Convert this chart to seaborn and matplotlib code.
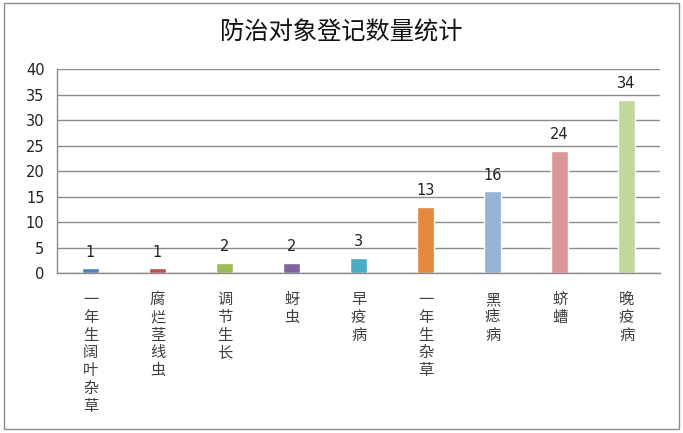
import numpy as np
import pandas as pd
import matplotlib
matplotlib.use("Agg")
import matplotlib.pyplot as plt
import seaborn as sns
from matplotlib.patches import Rectangle

categorias = ["一年生阔叶杂草", "腐烂茎线虫", "调节生长", "蚜虫", "早疫病",
              "一年生杂草", "黑痣病", "蛴螬", "晚疫病"]
quantidades = [1, 1, 2, 2, 3, 13, 16, 24, 34]
cores = ["#4F81BD", "#C0504D", "#9BBB59", "#8064A2", "#4BACC6",
         "#E3883D", "#95B3D7", "#D99694", "#C3D69B"]

sns.set_style("white")
plt.rcParams['font.family'] = ['Noto Sans CJK SC', 'DejaVu Sans']

df = pd.DataFrame({'cat': categorias, 'n': quantidades})

fig = plt.figure(figsize=(6.83, 4.33), dpi=100)
ax = fig.add_axes([0.0835, 0.3695, 0.883, 0.471])

sns.barplot(data=df, x='cat', y='n', hue='cat', palette=cores, width=0.26,
            legend=False, ax=ax, saturation=1)

for c in ax.containers:
    ax.bar_label(c, padding=6, fontsize=10.5, family='DejaVu Sans', color='#222222')

ax.set_ylim(0, 40)
ax.set_yticks(range(0, 41, 5))
ax.set_xlim(-0.5, len(categorias) - 0.5)
ax.yaxis.grid(True, color='#8c8c8c', linewidth=1)
ax.set_axisbelow(True)
ax.set_xlabel('')
ax.set_ylabel('')

# rótulos verticais, um caractere por linha
ax.set_xticks(range(len(categorias)))
ax.set_xticklabels(["\n".join(c) for c in categorias], fontsize=11,
                   color='#404040', va='top', linespacing=1.06)
ax.tick_params(axis='x', length=0, pad=13)
ax.set_xticks(np.arange(-0.5, len(categorias), 1), minor=True)
ax.tick_params(axis='x', which='minor', length=5, color='#8c8c8c', width=1, direction='out')
ax.tick_params(axis='y', length=5, color='#8c8c8c', width=1, direction='out',
               labelsize=10.5, labelcolor='#222222', pad=4)
for lbl in ax.get_yticklabels():
    lbl.set_family('DejaVu Sans')

sns.despine(ax=ax, top=True, right=True)
for s in ['left', 'bottom']:
    ax.spines[s].set_color('#8c8c8c')
    ax.spines[s].set_linewidth(1)

fig.text(0.5, 0.925, "防治对象登记数量统计", ha='center', va='center',
         fontsize=17.5, color='#111111')

fig.patches.append(Rectangle((4 / 683, 4 / 433), 675 / 683, 426 / 433,
                             transform=fig.transFigure, fill=False,
                             edgecolor='#8c8c8c', linewidth=1))

fig.savefig('out.png', dpi=100)
